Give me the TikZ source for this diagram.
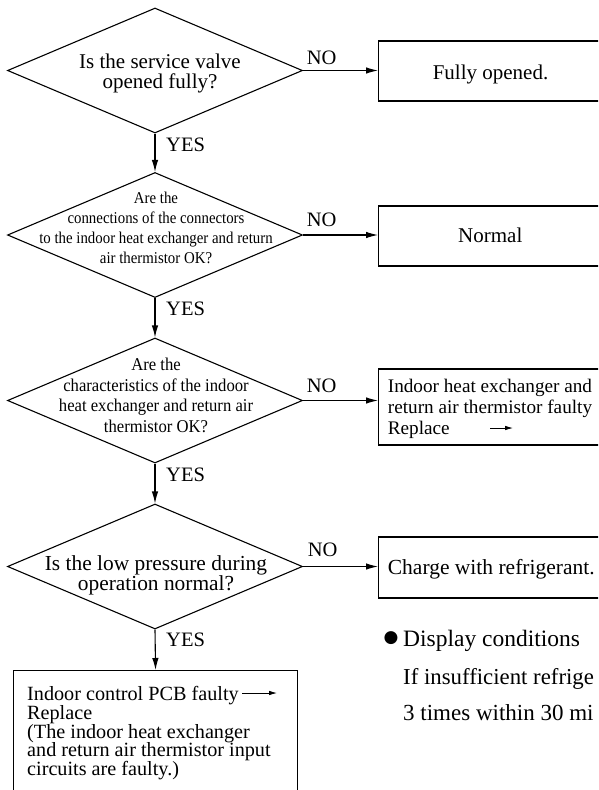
\documentclass[tikz,border=0pt]{standalone}
\usepackage{fontspec}
\setmainfont{Liberation Serif}
\newfontfamily\condfont[FakeStretch=0.9]{Liberation Serif}
\newfontfamily\condfontb[FakeStretch=0.925]{Liberation Serif}
\newfontfamily\symfont{DejaVu Sans}
\usetikzlibrary{shapes.geometric,arrows.meta}
\newcommand{\fs}[1]{\fontsize{#1}{#1}\selectfont}
\begin{document}
\begin{tikzpicture}[x=1pt,y=-1pt,
  lw/.style={line width=1.1pt},
  dia/.style={draw, lw, diamond, minimum width=295pt, minimum height=125pt, inner sep=0pt},
  rbox/.style={draw, lw, rectangle, inner sep=0pt, anchor=west, minimum width=224pt},
  tx/.style={inner sep=0pt, anchor=base},
  txl/.style={inner sep=0pt, anchor=base west},
  arr/.style={lw, -{Latex[length=12pt,width=6.5pt]}},
  sarr/.style={line width=0.8pt, -{Latex[length=8pt,width=4.5pt]}},
  lab/.style={inner sep=0pt, anchor=base west, font=\fs{20.5}},
]
\useasboundingbox (0,0) rectangle (598,790);
\clip (0,0) rectangle (598,790);

% diamonds
\node[dia] (d1) at (155,70.5) {};
\node[dia] (d2) at (155,235) {};
\node[dia] (d3) at (155,400.5) {};
\node[dia] (d4) at (155,566.5) {};

% diamond texts
\node[tx, font=\fs{21}] (t1a) at (160,68.3) {Is the service valve};
\node[tx, font=\fs{21}] (t1b) at (160,88.3) {opened fully?};

\node[tx, font=\condfont\fs{16.5}] (t2a) at (156,203) {Are the};
\node[tx, font=\condfont\fs{16.5}] (t2b) at (156,223) {connections of the connectors};
\node[tx, font=\condfont\fs{16.5}] (t2c) at (156,243) {to the indoor heat exchanger and return};
\node[tx, font=\condfont\fs{16.5}] (t2d) at (156,263) {air thermistor OK?};

\node[tx, font=\condfontb\fs{18}] (t3a) at (156,370) {Are the};
\node[tx, font=\condfontb\fs{18}] (t3b) at (156,391.5) {characteristics of the indoor};
\node[tx, font=\condfontb\fs{18}] (t3c) at (156,411.5) {heat exchanger and return air};
\node[tx, font=\condfontb\fs{18}] (t3d) at (156,432.5) {thermistor OK?};

\node[tx, font=\fs{21.4}] (t4a) at (156,570.7) {Is the low pressure during};
\node[tx, font=\fs{21.4}] (t4b) at (156,590.3) {operation normal?};

% right boxes
\node[rbox, minimum height=60pt] (b1) at (378,71) {};
\node[rbox, minimum height=60pt] (b2) at (378,236) {};
\node[rbox, minimum height=76pt] (b3) at (378,407) {};
\node[rbox, minimum height=61pt] (b4) at (378,567.5) {};
\node[draw, lw, rectangle, inner sep=0pt, anchor=north west, minimum width=284pt, minimum height=140pt] (b5) at (13,670) {};

\node[tx, font=\fs{21}] (tb1) at (490.5,79) {Fully opened.};
\node[tx, font=\fs{21}] (tb2) at (490.3,242.7) {Normal};
\node[txl, font=\fs{19.2}] (tb3a) at (387.7,392.7) {Indoor heat exchanger and};
\node[txl, font=\fs{19.2}] (tb3b) at (387.7,413.3) {return air thermistor faulty};
\node[txl, font=\fs{19.2}] (tb3c) at (387.7,434) {Replace};
\coordinate (a3s) at (490,428);
\coordinate (a3e) at (513,428);
\draw[sarr] (a3s) -- (a3e);
\node[txl, font=\fs{21.5}] (tb4) at (387.7,574) {Charge with refrigerant.};

\node[txl, font=\fs{20.2}] (tb5a) at (27,700.7) {Indoor control PCB faulty};
\node[txl, font=\fs{20.2}] (tb5b) at (27,719.3) {Replace};
\node[txl, font=\fs{20.2}] (tb5c) at (27,738) {(The indoor heat exchanger};
\node[txl, font=\fs{20.2}] (tb5d) at (27,756.7) {and return air thermistor input};
\node[txl, font=\fs{20.2}] (tb5e) at (27,775.5) {circuits are faulty.)};
\coordinate (a5s) at (242,693);
\coordinate (a5e) at (277,693);
\draw[sarr] (a5s) -- (a5e);

% connectors
\draw[arr] (d1.south) -- (d2.north);
\draw[arr] (d2.south) -- (d3.north);
\draw[arr] (d3.south) -- (d4.north);
\draw[arr] (d4.south) -- (b5.north);
\draw[arr] (d1.east) -- (d1.east -| b1.west);
\draw[arr] (d2.east) -- (d2.east -| b2.west);
\draw[arr] (d3.east) -- (d3.east -| b3.west);
\draw[arr] (d4.east) -- (d4.east -| b4.west);

% labels
\node[lab] (y1) at (166,151) {YES};
\node[lab] (y2) at (166,315) {YES};
\node[lab] (y3) at (166,481) {YES};
\node[lab] (y4) at (166,646.5) {YES};
\node[lab] (n1) at (306.7,64) {NO};
\node[lab] (n2) at (306.7,226.7) {NO};
\node[lab] (n3) at (306.7,392.7) {NO};
\node[lab] (n4) at (307.7,556.7) {NO};

% display conditions
\node[inner sep=0pt, font=\symfont\fs{17}] (bul) at (391,638) {●};
\node[txl, font=\fs{23.5}] (dc1) at (403,646.7) {Display conditions};
\node[txl, font=\fs{22.8}] (dc2) at (403,684) {If insufficient refrige};
\node[txl, font=\fs{23}] (dc3) at (403,720.7) {3 times within 30 mi};
\end{tikzpicture}
\end{document}
